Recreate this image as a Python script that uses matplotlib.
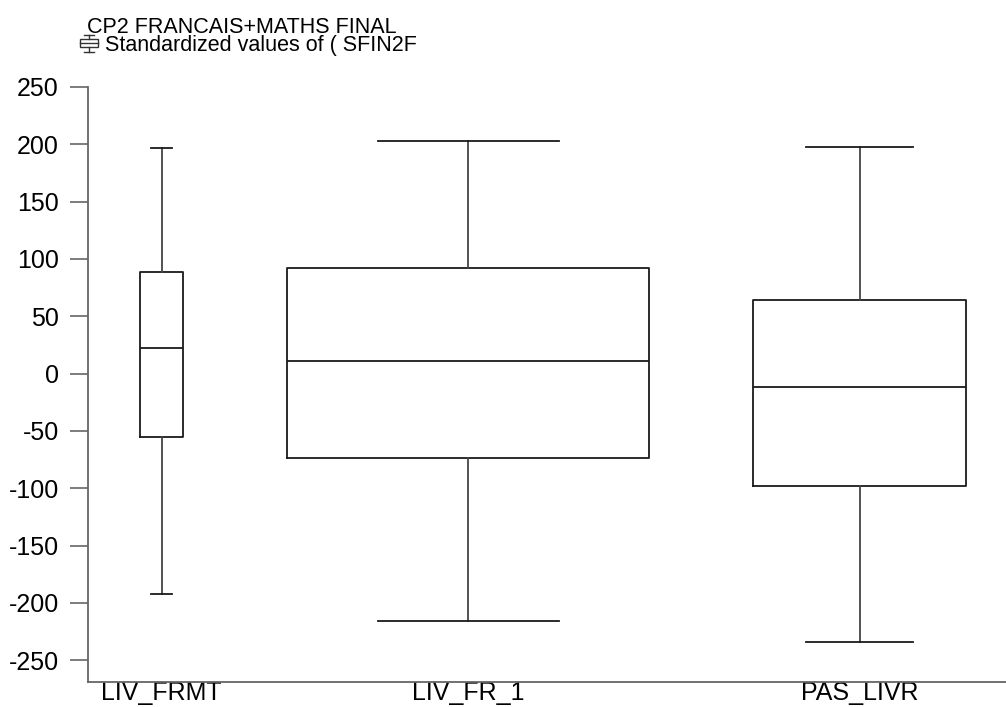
import matplotlib.pyplot as plt
from matplotlib.lines import Line2D
from matplotlib.patches import Rectangle

plt.rcParams['font.family'] = ['Liberation Sans', 'DejaVu Sans']

groups = ['LIV_FRMT', 'LIV_FR_1', 'PAS_LIVR']
whislo = [-192, -216, -234]
q1 = [-55, -74, -98]
med = [22, 11, -12]
q3 = [89, 92, 64]
whishi = [197, 203, 198]
box_widths = [43, 362, 213]  # box width follows group size
yticks = [-250, -200, -150, -100, -50, 0, 50, 100, 150, 200, 250]

# lay the boxes out side by side, same gap between them
gap = 104
positions = []
x = gap / 2
for w in box_widths:
    positions.append(x + w / 2)
    x += w + gap

stats = []
for i in range(len(groups)):
    stats.append({'label': groups[i], 'whislo': whislo[i], 'q1': q1[i],
                  'med': med[i], 'q3': q3[i], 'whishi': whishi[i], 'fliers': []})

W, H = 1006, 707
fig = plt.figure(figsize=(W / 100, H / 100), dpi=100)
ax = fig.add_axes([88 / W, 25 / H, (W - 88) / W, 595 / H])

box_col = '#1a1a1a'
whisk_col = '#444444'
ax.bxp(stats, positions=positions, widths=box_widths,
       capwidths=[w / 2 for w in box_widths], showfliers=False,
       boxprops=dict(color=box_col, linewidth=1.3),
       medianprops=dict(color=box_col, linewidth=1.3),
       whiskerprops=dict(color=whisk_col, linewidth=1.3),
       capprops=dict(color=box_col, linewidth=1.3))

ax.set_xlim(0, W - 88)
ax.set_ylim(-269, 250)
ax.set_yticks(yticks)
ax.set_yticklabels([str(t) for t in yticks], fontsize=18)
ax.set_xticks(positions)
ax.set_xticklabels(groups, fontsize=18)
ax.tick_params(axis='y', direction='out', length=13, width=1.2, color='#666666', pad=8)
ax.tick_params(axis='x', length=0, pad=-1)
for s in ['top', 'right']:
    ax.spines[s].set_visible(False)
for s in ['left', 'bottom']:
    ax.spines[s].set_color('#666666')
    ax.spines[s].set_linewidth(1.3)

# two-line heading, second line leaves room for the glyph
fig.text(87 / W, 1 - 51 / H, 'CP2 FRANCAIS+MATHS FINAL\n   Standardized values of ( SFIN2F',
         fontsize=15.5, ha='left', va='baseline', linespacing=0.8)

# small boxplot glyph before the legend line
gcol = '#333333'
def fline(xs, ys):
    fig.add_artist(Line2D([v / W for v in xs], [1 - v / H for v in ys],
                          transform=fig.transFigure, color=gcol, linewidth=1))

fig.add_artist(Rectangle((80 / W, 1 - 47 / H), 18 / W, 8 / H, transform=fig.transFigure,
                         fill=False, edgecolor=gcol, linewidth=1))
fline([89, 89], [35, 39])
fline([89, 89], [47, 52])
fline([80, 98], [43, 43])
fline([84, 94], [35, 35])
fline([84, 94], [52, 52])

fig.savefig('out.png', dpi=100)
